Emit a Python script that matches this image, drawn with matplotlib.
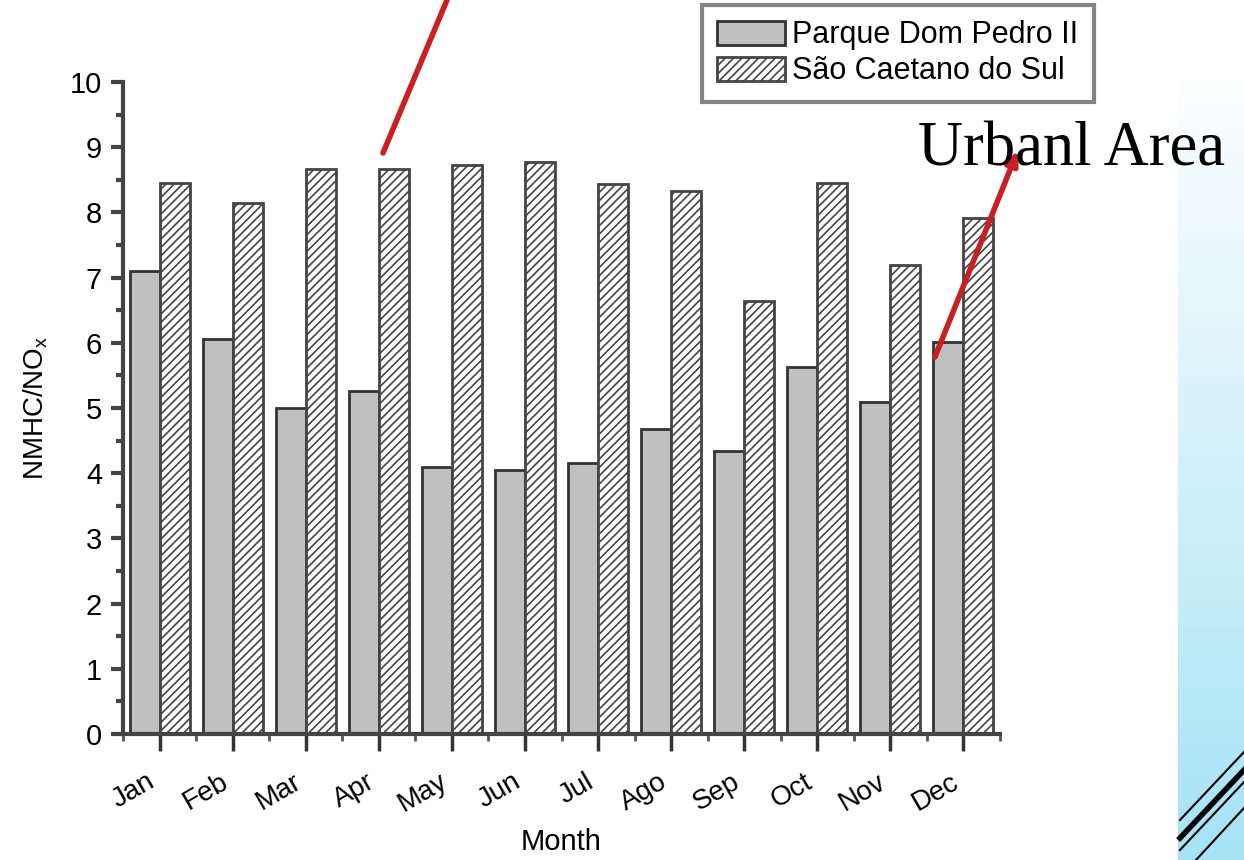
import numpy as np
import matplotlib.pyplot as plt
from matplotlib.lines import Line2D
from matplotlib.colors import LinearSegmentedColormap
from matplotlib.ticker import MultipleLocator, FixedLocator

months = ["Jan", "Feb", "Mar", "Apr", "May", "Jun", "Jul", "Ago", "Sep", "Oct", "Nov", "Dec"]
dom_pedro = [7.1, 6.06, 5.0, 5.26, 4.1, 4.05, 4.16, 4.68, 4.34, 5.63, 5.09, 6.01]
sao_caetano = [8.45, 8.15, 8.67, 8.67, 8.73, 8.77, 8.44, 8.33, 6.64, 8.45, 7.19, 7.91]

plt.rcParams['font.family'] = ['Liberation Sans', 'DejaVu Sans']
plt.rcParams['hatch.color'] = '#444444'
plt.rcParams['hatch.linewidth'] = 1.2

fig = plt.figure(figsize=(12.44, 8.6), dpi=100)

# light blue band at the right edge
band = fig.add_axes([1178 / 1244, 0, 66 / 1244, 800 / 860])
grad = np.linspace(0, 1, 256).reshape(-1, 1)
cm = LinearSegmentedColormap.from_list("b", ["#a6e3f6", "#ffffff"])
band.imshow(grad, aspect='auto', cmap=cm, origin='lower', extent=[0, 1, 0, 1])
band.axis('off')

ax = fig.add_axes([123 / 1244, 1 - 734 / 860, 877 / 1244, 652 / 860])
x = np.arange(len(months))
w = 0.41
ax.bar(x - w / 2, dom_pedro, w, color='#c0c0c0', edgecolor='#333333', linewidth=2,
       label="Parque Dom Pedro II")
ax.bar(x + w / 2, sao_caetano, w, color='white', edgecolor='#444444', linewidth=2,
       hatch='////', label="São Caetano do Sul")

ax.set_xlim(-0.5, 11.5)
ax.set_ylim(0, 10)
ax.spines['top'].set_visible(False)
ax.spines['right'].set_visible(False)
for s in ['left', 'bottom']:
    ax.spines[s].set_linewidth(3)
    ax.spines[s].set_color('#444444')
ax.yaxis.set_major_locator(MultipleLocator(1))
ax.yaxis.set_minor_locator(MultipleLocator(0.5))
ax.xaxis.set_major_locator(FixedLocator(x))
ax.xaxis.set_minor_locator(FixedLocator(np.arange(-0.5, 12, 1)))
ax.set_xticks(x)
ax.set_xticklabels(months, rotation=30, fontsize=20, ha='right')
ax.tick_params(axis='y', which='major', length=9, width=3, color='#444444', labelsize=21, pad=6)
ax.tick_params(axis='y', which='minor', length=5, width=3, color='#444444')
ax.tick_params(axis='x', which='major', length=12, width=2.5, color='#333333', pad=13)
ax.tick_params(axis='x', which='minor', length=5, width=2, color='#555555')
ax.set_xlabel("Month", fontsize=21, labelpad=8)
ax.set_ylabel(r"NMHC/NO$_\mathregular{x}$", fontsize=20, labelpad=14)

leg = fig.legend(loc='upper left', bbox_to_anchor=(702 / 1244, 1 - 5 / 860), fontsize=22,
                 frameon=True, fancybox=False, handlelength=2.2, handleheight=0.85,
                 borderpad=0.5, labelspacing=0.2, handletextpad=0.25, borderaxespad=0)
leg.get_frame().set_edgecolor('#666666')
leg.get_frame().set_linewidth(3)

fig.text(918 / 1244, 1 - 165 / 860, "Urbanl Area", fontsize=45, va='baseline',
         family=['Liberation Serif', 'DejaVu Serif'], color='black')

# red arrows
fig.add_artist(Line2D([383 / 1244, 447 / 1244], [1 - 153 / 860, 1.0], color='#c82020',
                      linewidth=4, solid_capstyle='round', transform=fig.transFigure))
ax.annotate("", xy=(1018 / 1244, 1 - 150 / 860), xycoords='figure fraction',
            xytext=(935 / 1244, 1 - 357 / 860), textcoords='figure fraction',
            arrowprops=dict(arrowstyle='-|>,head_length=0.8,head_width=0.35', color='#c82020',
                            lw=4, shrinkA=0, shrinkB=0))

# black diagonal lines bottom right
for (x0, y0, x1, y1, lw) in [(1180, 820, 1244, 752, 1.5), (1180, 838, 1244, 770, 4),
                             (1180, 850, 1244, 782, 1.5), (1196, 860, 1244, 808, 1.5)]:
    fig.add_artist(Line2D([x0 / 1244, x1 / 1244], [1 - y0 / 860, 1 - y1 / 860],
                          color='black', linewidth=lw, transform=fig.transFigure))

fig.savefig("out.png", dpi=100)
